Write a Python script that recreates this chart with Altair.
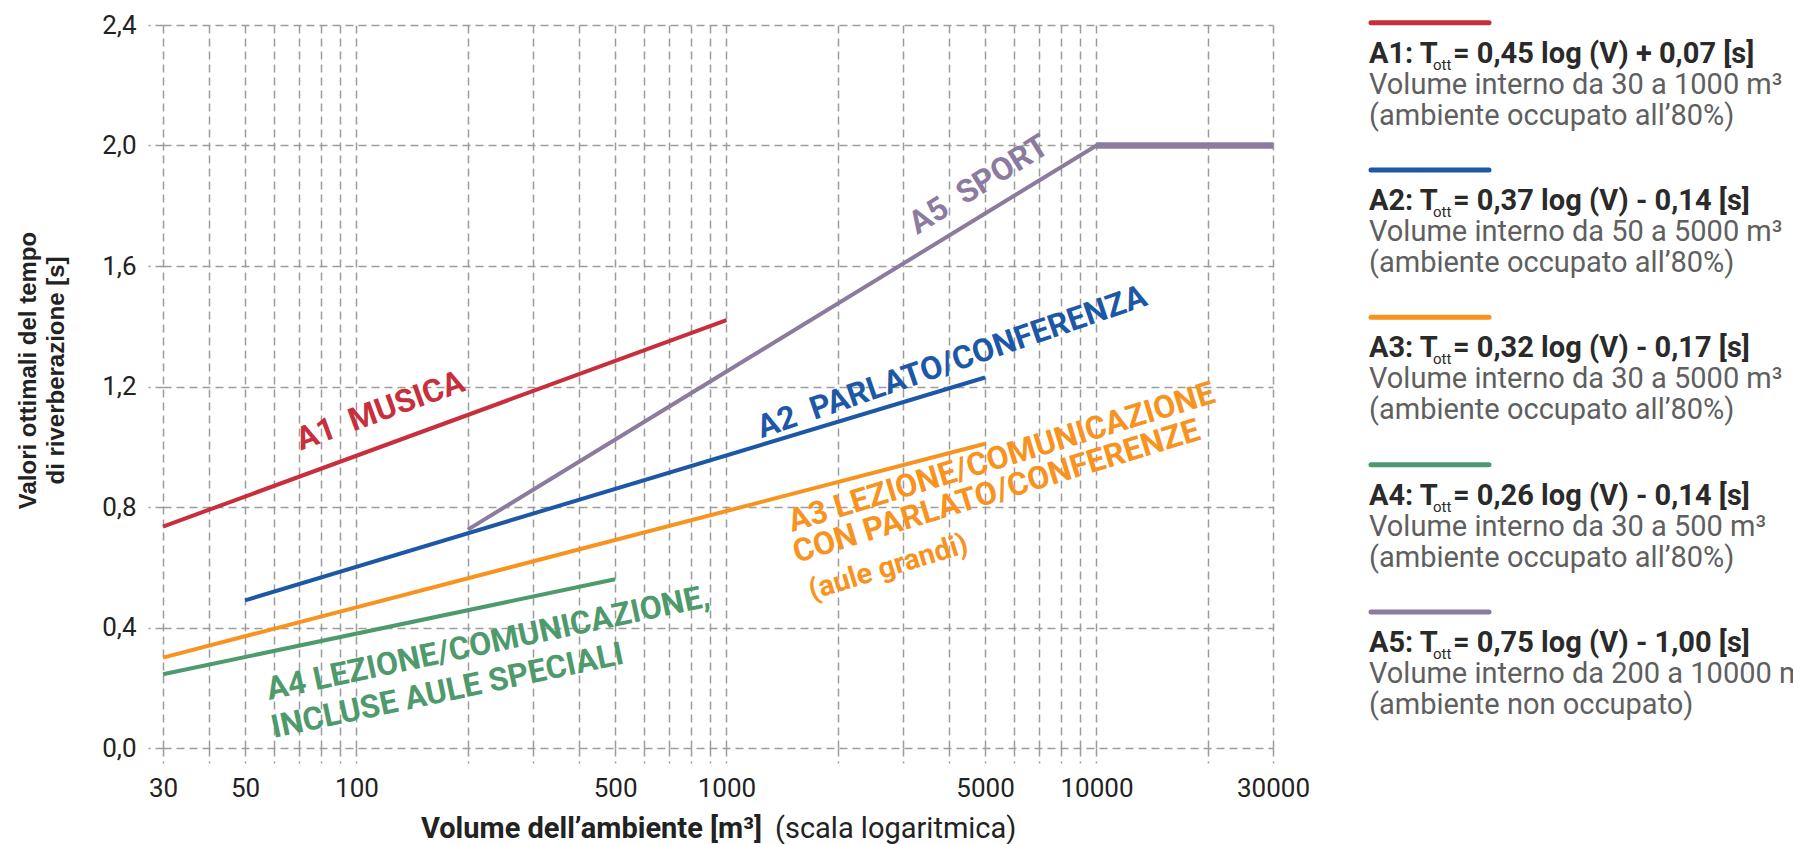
import altair as alt
import pandas as pd

# ---- curves: optimal reverberation time vs. room volume -------------------
series = ["A1", "A2", "A3", "A4", "A5"]
line_colors = ["#C62F3B", "#1D58A6", "#F7931E", "#4F9A6C", "#8B7B9F"]
text_colors = ["#C2343F", "#2157A0", "#F28B2A", "#6BAB86", "#857599"]

a1_volume = [30, 1000]
a1_time = [0.735, 1.42]
a2_volume = [50, 5000]
a2_time = [0.49, 1.23]
a3_volume = [30, 5000]
a3_time = [0.30, 1.01]
a4_volume = [30, 500]
a4_time = [0.245, 0.56]
a5_volume = [200, 10000, 30000]
a5_time = [0.725, 2.0, 2.0]

curve_volumes = [a1_volume, a2_volume, a3_volume, a4_volume, a5_volume]
curve_times = [a1_time, a2_time, a3_time, a4_time, a5_time]

# ---- axis ticks -------------------------------------------------------------
y_ticks = [0.0, 0.4, 0.8, 1.2, 1.6, 2.0, 2.4]
x_grid = [30, 40, 50, 60, 70, 80, 90,
          100, 200, 300, 400, 500, 600, 700, 800, 900,
          1000, 2000, 3000, 4000, 5000, 6000, 7000, 8000, 9000,
          10000, 20000, 30000]
x_labels = [30, 50, 100, 500, 1000, 5000, 10000, 30000]

# ---- in-plot annotations ----------------------------------------------------
NB = "\u00a0"
ann_text = ["A1" + NB + NB + "MUSICA", "A5" + NB + NB + "SPORT",
            "A2" + NB + NB + "PARLATO/CONFERENZA",
            "A3 LEZIONE/COMUNICAZIONE", "CON PARLATO/CONFERENZE", "(aule grandi)",
            "A4 LEZIONE/COMUNICAZIONE,", "INCLUSE AULE SPECIALI"]
ann_series = ["A1", "A5", "A2", "A3", "A3", "A3", "A4", "A4"]
ann_volume = [116, 4810, 4067, 1503, 1548, 1702, 58, 59.8]
ann_time = [1.119, 1.87, 1.281, 0.717, 0.614, 0.491, 0.159, 0.033]
ann_angle = [340, 328, 341, 343, 343, 343, 348, 348]
ann_align = ["center", "center", "center", "left", "left", "left", "left", "left"]
ann_baseline = ["middle", "middle", "middle", "alphabetic", "alphabetic",
                "alphabetic", "alphabetic", "alphabetic"]
ann_size = [32, 32, 32, 32, 32, 29, 32, 32]

# ---- legend -----------------------------------------------------------------
legend_head = ["A1: T", "A2: T", "A3: T", "A4: T", "A5: T"]
legend_tail = ["= 0,45 log (V) + 0,07 [s]",
               "= 0,37 log (V) - 0,14 [s]",
               "= 0,32 log (V) - 0,17 [s]",
               "= 0,26 log (V) - 0,14 [s]",
               "= 0,75 log (V) - 1,00 [s]"]
legend_range = ["Volume interno da 30 a 1000 m³",
                "Volume interno da 50 a 5000 m³",
                "Volume interno da 30 a 5000 m³",
                "Volume interno da 30 a 500 m³",
                "Volume interno da 200 a 10000 m³"]
legend_state = ["(ambiente occupato all’80%)",
                "(ambiente occupato all’80%)",
                "(ambiente occupato all’80%)",
                "(ambiente occupato all’80%)",
                "(ambiente non occupato)"]

PLOT_W, PLOT_H = 1110, 723
FONT = "Roboto"

rows = []
for s, vols, times in zip(series, curve_volumes, curve_times):
    for v, t in zip(vols, times):
        rows.append({"serie": s, "V": v, "T": t})
curves = pd.DataFrame(rows)

x_scale = alt.Scale(type="log", domain=[30, 30000], nice=False)
y_scale = alt.Scale(domain=[0, 2.4], nice=False, zero=False)
color_scale = alt.Scale(domain=series, range=line_colors)
text_scale = alt.Scale(domain=series, range=text_colors)

grid_kw = dict(grid=True, gridDash=[8, 5], gridColor="#9c9c9c", gridWidth=1.5,
               ticks=True, tickDash=[8, 5], tickColor="#9c9c9c", tickWidth=1.5,
               tickSize=15, domain=False, labelFont=FONT, labelFontSize=26,
               labelColor="#222222", labelPadding=12, labelOverlap=False,
               labelFlush=False)

x_axis = alt.Axis(
    values=x_grid,
    labelExpr="indexof(" + str(x_labels) + ", datum.value) >= 0 ? format(datum.value, 'd') : ''",
    title=None, **grid_kw)

y_axis = alt.Axis(
    values=y_ticks,
    labelExpr="replace(format(datum.value, '.1f'), '.', ',')",
    title=["Valori ottimali del tempo", "di riverberazione [s]"],
    titleFont="Liberation Sans", titleFontSize=24, titleFontWeight="bold",
    titleColor="#222222", titleLineHeight=28, titleAngle=270,
    titleBaseline="middle", titleAlign="center",
    titleX=-135, titleY=345, **grid_kw)

# every layer of the plot shares the same scale and axis definitions
X = alt.X("V:Q", scale=x_scale, axis=x_axis)
Y = alt.Y("T:Q", scale=y_scale, axis=y_axis)

line_layer = alt.Chart(curves).mark_line(strokeWidth=4, strokeCap="butt").encode(
    x=X, y=Y,
    color=alt.Color("serie:N", scale=color_scale, legend=None),
    detail="serie:N",
)

plateau_layer = alt.Chart(curves).transform_filter(
    (alt.datum.serie == "A5") & (alt.datum.V >= 10000)
).mark_line(strokeWidth=6.5, strokeCap="butt").encode(
    x=X, y=Y,
    color=alt.Color("serie:N", scale=color_scale, legend=None),
)

ann_layers = []
for i in range(len(ann_text)):
    df = pd.DataFrame({"label": [ann_text[i]], "serie": [ann_series[i]],
                       "V": [ann_volume[i]], "T": [ann_time[i]]})
    ann_layers.append(
        alt.Chart(df).mark_text(
            font=FONT, fontWeight="bold", fontSize=ann_size[i],
            angle=ann_angle[i], align=ann_align[i], baseline=ann_baseline[i],
        ).encode(
            x=X, y=Y,
            text="label:N",
            color=alt.Color("serie:N", scale=text_scale, legend=None),
        )
    )

# x-axis title: bold part and plain part
title_bold = alt.Chart(pd.DataFrame({"t": ["Volume dell’ambiente [m³]"]})).mark_text(
    font=FONT, fontSize=29, fontWeight="bold", color="#222222",
    align="right", baseline="middle",
).encode(x=alt.value(599), y=alt.value(804), text="t:N")

title_plain = alt.Chart(pd.DataFrame({"t": ["(scala logaritmica)"]})).mark_text(
    font=FONT, fontSize=29, color="#222222", align="left", baseline="middle",
).encode(x=alt.value(612), y=alt.value(804), text="t:N")

main = alt.layer(line_layer, plateau_layer, *ann_layers, title_bold, title_plain)

# ---- custom legend to the right of the plot ----------------------------------
legend_df = pd.DataFrame({
    "k": list(range(len(series))),
    "serie": series,
    "head": legend_head,
    "sub": ["ott"] * len(series),
    "tail": legend_tail,
    "range": legend_range,
    "state": legend_state,
})
LX = 1206
ly = alt.Y("k:Q", scale=alt.Scale(domain=[0, 4], range=[-2.3, 587]), axis=None)
lc = alt.Color("serie:N", scale=color_scale, legend=None)

leg_base = alt.Chart(legend_df)
leg_rule = leg_base.mark_rule(strokeWidth=5, strokeCap="round").encode(
    x=alt.value(LX + 2), x2=alt.value(LX + 120), y=ly, color=lc)
leg_head = leg_base.mark_text(font=FONT, fontSize=29, fontWeight="bold",
                              color="#2a2a2a", align="left", baseline="alphabetic",
                              dy=40).encode(x=alt.value(LX), y=ly, text="head:N")
leg_sub = leg_base.mark_text(font=FONT, fontSize=15, color="#2a2a2a",
                             align="left", baseline="alphabetic",
                             dy=47).encode(x=alt.value(LX + 64), y=ly, text="sub:N")
leg_tail = leg_base.mark_text(font=FONT, fontSize=29, fontWeight="bold",
                              color="#2a2a2a", align="left", baseline="alphabetic",
                              dy=40).encode(x=alt.value(LX + 84), y=ly, text="tail:N")
leg_range = leg_base.mark_text(font=FONT, fontSize=29, color="#5f5f5f",
                               align="left", baseline="alphabetic",
                               dy=71).encode(x=alt.value(LX), y=ly, text="range:N")
leg_state = leg_base.mark_text(font=FONT, fontSize=29, color="#5f5f5f",
                               align="left", baseline="alphabetic",
                               dy=102).encode(x=alt.value(LX), y=ly, text="state:N")

legend = alt.layer(leg_rule, leg_head, leg_sub, leg_tail, leg_range, leg_state)

chart = alt.layer(main, legend).resolve_scale(
    y="independent", color="independent"
).resolve_axis(
    y="independent"
).properties(
    width=PLOT_W, height=PLOT_H,
    padding={"left": 163, "top": 25, "right": 520, "bottom": 96},
    autosize=alt.AutoSizeParams(type="none"),
    background="white",
).configure_view(stroke=None)

chart.save("out.html", embed_options={"renderer": "svg", "actions": False})
